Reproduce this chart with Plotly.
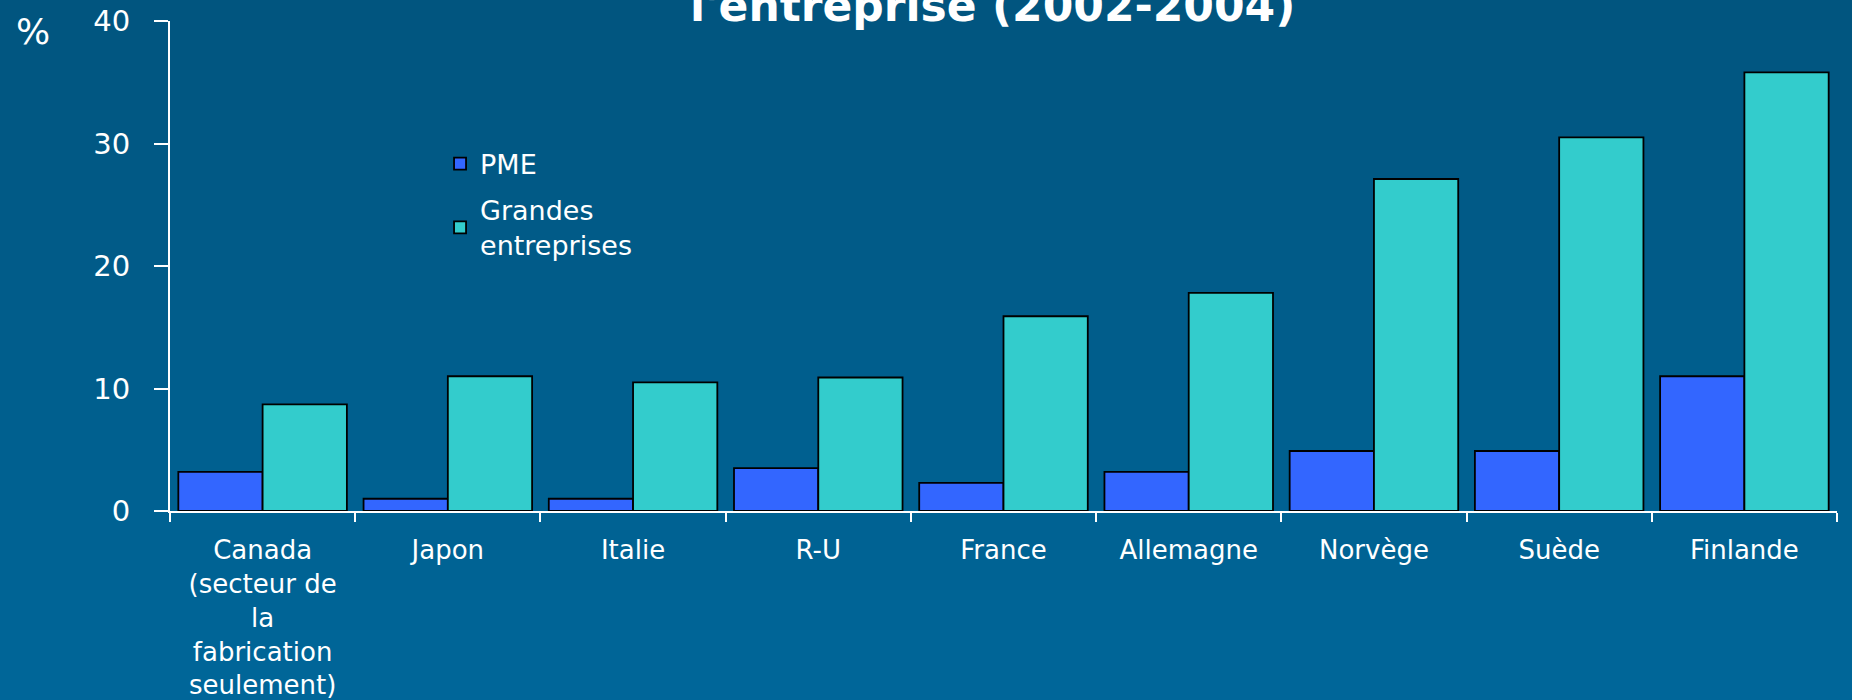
import plotly.graph_objects as go

categories = ["Canada<br>(secteur de<br>la<br>fabrication<br>seulement)", "Japon", "Italie", "R-U",
              "France", "Allemagne", "Norvège", "Suède", "Finlande"]
pme = [3.2, 1.0, 1.0, 3.5, 2.3, 3.2, 4.9, 4.9, 11.0]
grandes = [8.7, 11.0, 10.5, 10.9, 15.9, 17.8, 27.1, 30.5, 35.8]
series_names = ["PME", "Grandes<br>entreprises"]
title_text = "l'entreprise (2002-2004)"
y_ticks = [0, 10, 20, 30, 40]

FONT = "DejaVu Sans"
W, H = 1852, 700
ml, mr, mt, mb = 170, 15, 21, 189

fig = go.Figure()
fig.add_trace(go.Bar(x=categories, y=pme, name=series_names[0],
                     marker=dict(color="#3366FF", line=dict(color="#000000", width=1.8)),
                     legendgroup="a"))
fig.add_trace(go.Bar(x=categories, y=grandes, name=series_names[1],
                     marker=dict(color="#33CCCC", line=dict(color="#000000", width=1.8)),
                     legendgroup="b"))

# background gradient strips (paper coordinates spanning the whole page)
ph = H - mt - mb
pw = W - ml - mr
n = 70
top = (1, 85, 127)
bot = (0, 102, 153)
shapes = []
for i in range(n):
    t = i / (n - 1)
    c = tuple(round(top[k] + (bot[k] - top[k]) * t) for k in range(3))
    py0 = i * H / n - (1 if i == 0 else 0)
    py1 = (i + 1) * H / n + 1
    y_top = (H - mb - py0) / ph
    y_bot = (H - mb - py1) / ph
    shapes.append(dict(type="rect", xref="paper", yref="paper",
                       x0=-(ml + 2) / pw, x1=1 + (mr + 2) / pw,
                       y0=y_bot, y1=y_top, fillcolor="rgb(%d,%d,%d)" % c,
                       line=dict(width=0), layer="below"))

fig.update_layout(
    width=W, height=H,
    margin=dict(l=ml, r=mr, t=mt, b=mb, autoexpand=False),
    paper_bgcolor="#005d8c",
    plot_bgcolor="rgba(0,0,0,0)",
    shapes=shapes,
    barmode="group",
    bargap=0.09,
    bargroupgap=0,
    font=dict(family=FONT, color="white"),
    showlegend=True,
    legend=dict(x=0.162, y=0.758, xanchor="left", yanchor="top",
                bgcolor="rgba(0,0,0,0)", font=dict(size=27, color="white", family=FONT),
                tracegroupgap=8, traceorder="grouped"),
    annotations=[
        dict(text="<b>" + title_text + "</b>", xref="paper", yref="paper",
             x=(992 - ml) / pw, y=1, xanchor="center", yanchor="bottom",
             yshift=-12, showarrow=False, font=dict(size=44, color="white", family=FONT)),
        dict(text="%", xref="paper", yref="paper", x=(14 - ml) / pw, y=1,
             xanchor="left", yanchor="middle", yshift=-10, showarrow=False,
             font=dict(size=36, color="white", family=FONT)),
    ],
)

fig.update_xaxes(
    automargin=False,
    showline=True, linecolor="white", linewidth=2,
    ticks="outside", tickson="boundaries", ticklen=9, tickcolor="white", tickwidth=2,
    tickfont=dict(size=26, color="white", family=FONT),
    ticklabelstandoff=15,
    showgrid=False, zeroline=False, tickangle=0,
)
fig.update_yaxes(
    automargin=False,
    range=[0, 40], tickvals=y_ticks,
    showline=True, linecolor="white", linewidth=2,
    ticks="outside", ticklen=14, tickcolor="white", tickwidth=2,
    tickfont=dict(size=29, color="white", family=FONT),
    ticklabelstandoff=18,
    showgrid=False, zeroline=False,
)

fig.write_html("out.html", config={"displayModeBar": False},
               post_script="document.body.style.margin='0';document.body.style.overflow='hidden';")
